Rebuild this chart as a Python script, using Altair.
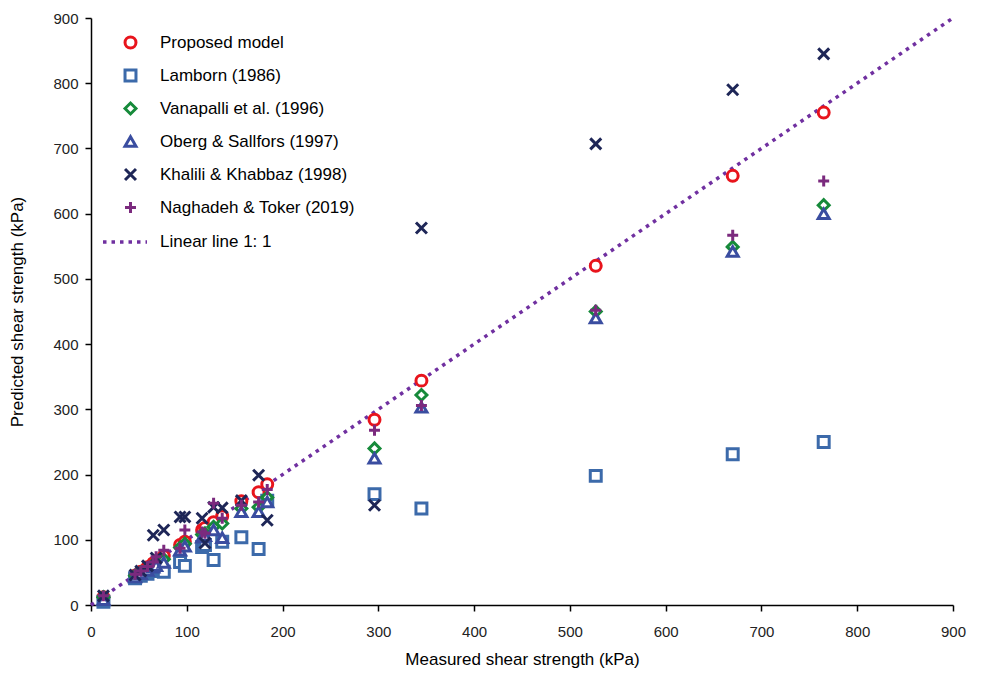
import altair as alt
import pandas as pd

measured = [13, 46, 52, 59, 65, 68, 76, 93, 98, 116, 119, 128, 137, 157, 175, 184, 296, 345, 527, 670, 765]
proposed = [12, 45, 51, 58, 64, 67, 75, 92, 97, 115, 118, 127, 136, 159, 173, 185, 284, 344, 520, 658, 755]
lamborn = [5, 41, 45, 48, 52, 55, 51, 66, 60, 89, 92, 69, 97, 104, 86, 160, 170, 148, 198, 231, 250]
vanapalli = [12, 45, 50, 56, 62, 65, 70, 88, 94, 108, 110, 120, 125, 148, 150, 165, 240, 322, 450, 549, 613]
oberg = [8, 43, 48, 53, 58, 60, 65, 84, 90, 104, 106, 115, 103, 143, 143, 158, 225, 303, 440, 542, 600]
khalili = [14, 46, 52, 60, 107, 72, 115, 135, 135, 133, 95, 150, 149, 160, 199, 130, 153, 578, 707, 790, 845]
naghadeh = [14, 47, 52, 59, 66, 74, 84, 87, 115, 112, 110, 156, 133, 153, 158, 177, 268, 306, 452, 567, 650]

series_names = ["Proposed model", "Lamborn (1986)", "Vanapalli et al. (1996)",
                "Oberg & Sallfors (1997)", "Khalili & Khabbaz (1998)", "Naghadeh & Toker (2019)"]
series_values = [proposed, lamborn, vanapalli, oberg, khalili, naghadeh]
colors = ["#E8141C", "#3C6AAA", "#168A3A", "#3A4DA0", "#1E2657", "#7B2A7E"]
shapes = ["circle", "square", "diamond", "triangle-up",
          "M-1,-1L1,1M1,-1L-1,1", "M-1,0L1,0M0,-1L0,1"]

line_x = [0, 900]
line_y = [0, 900]
line_name = "Linear line 1: 1"

rows = []
for i, (name, vals) in enumerate(zip(series_names, series_values)):
    for m, v in zip(measured, vals):
        rows.append({"Measured": m, "Predicted": v, "Series": name, "order": i})
pts = pd.DataFrame(rows)
line_df = pd.DataFrame({"x": line_x, "y": line_y, "name": [line_name] * 2})

x_scale = alt.Scale(domain=[0, 900], nice=False, zero=True)
y_scale = alt.Scale(domain=[0, 900], nice=False, zero=True)
ticks = list(range(0, 901, 100))

line = alt.Chart(line_df).mark_line(
    color="#7030A0", strokeWidth=3.5, strokeCap="butt"
).encode(
    x=alt.X("x:Q", scale=x_scale, axis=alt.Axis(values=ticks, title="Measured shear strength (kPa)")),
    y=alt.Y("y:Q", scale=y_scale, axis=alt.Axis(values=ticks, title="Predicted shear strength (kPa)")),
    strokeDash=alt.StrokeDash(
        "name:N",
        scale=alt.Scale(domain=[line_name], range=[[3.5, 5]]),
        legend=alt.Legend(
            title=None, orient="none", legendX=10, legendY=200,
            symbolType="stroke", symbolStrokeColor="#7030A0", symbolStrokeWidth=3.5,
            symbolSize=1936, labelFontSize=17, labelOffset=11, labelLimit=400,
            labelFont="Liberation Sans", labelColor="#000000", symbolOpacity=1,
        ),
    ),
)

pt_legend = alt.Legend(
    title=None, orient="none", legendX=31, legendY=16,
    symbolSize=120, symbolStrokeWidth=3, labelFontSize=17,
    labelFont="Liberation Sans", labelColor="#000000", labelLimit=400,
    labelOffset=21, rowPadding=10, symbolFillColor="white",
)

points = alt.Chart(pts).mark_point(
    filled=False, fill="white", strokeWidth=3, size=120, opacity=1
).encode(
    x=alt.X("Measured:Q", scale=x_scale),
    y=alt.Y("Predicted:Q", scale=y_scale),
    color=alt.Color("Series:N", scale=alt.Scale(domain=series_names, range=colors), legend=pt_legend),
    shape=alt.Shape("Series:N", scale=alt.Scale(domain=series_names, range=shapes), legend=pt_legend),
    order=alt.Order("order:Q"),
)

chart = alt.layer(line, points).properties(
    width=862, height=587,
    autosize=alt.AutoSizeParams(type="none"),
    padding={"left": 91, "top": 18, "right": 31, "bottom": 75},
).configure_view(
    stroke=None
).configure_axis(
    grid=False, domainColor="#000000", domainWidth=1.5, tickColor="#000000",
    tickSize=6, tickWidth=1.5, labelFont="Liberation Sans", labelFontSize=15,
    labelColor="#222222", titleFont="Liberation Sans", titleFontSize=17,
    titleFontWeight="normal", titleColor="#000000", labelFlush=False,
).configure_axisX(
    labelPadding=13, titlePadding=12,
).configure_axisY(
    labelPadding=7, titlePadding=26,
)

chart.save("out.html", embed_options={"renderer": "svg", "actions": False})
